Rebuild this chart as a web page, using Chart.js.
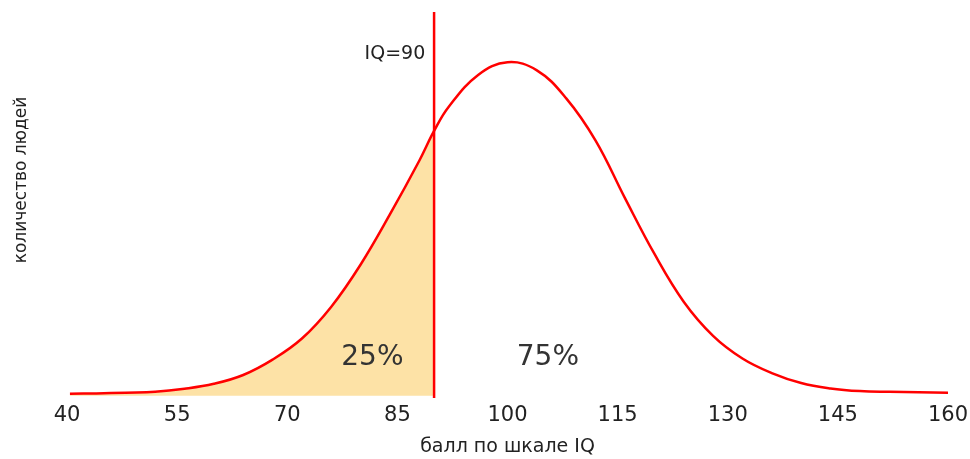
<!DOCTYPE html>
<html lang="ru">
<head>
    <meta charset="UTF-8">
    <title>IQ distribution</title>
    <style>
        body { margin: 0; background: #fff; }
        .container { width: 970px; height: 459px; position: relative; }
    </style>
</head>
<body>
    <div class="container">
        <canvas id="iqChart"></canvas>
    </div>

    <script src="https://cdn.jsdelivr.net/npm/chart.js"></script>
    <script>
// values
const iqScores = [40.4, 44, 48, 52, 56, 60, 64, 68, 72, 76, 80, 84, 88, 90, 92, 96, 100, 104, 108, 112, 116, 120, 124, 128, 132, 136, 140, 144, 148, 152, 156, 160];
const peopleCount = [0.5, 0.6, 0.8, 1.0, 1.8, 3.1, 5.4, 9.4, 14.9, 23.2, 34.2, 47.3, 61.3, 69.0, 75.3, 83.6, 86.9, 84.8, 77.5, 66.5, 51.5, 37.0, 24.5, 15.6, 9.7, 5.9, 3.3, 1.9, 1.2, 1.0, 0.9, 0.8];
const cutoffIQ = 90;
const xTickValues = [40, 55, 70, 85, 100, 115, 130, 145, 160];

const noteTexts = ['IQ=90', '25%', '75%'];
const noteIQ = [88.8, 81.6, 105.5];
const noteCount = [89, 10, 10];

const yMin = -0.6, yMax = 100;

const curvePoints = iqScores.map((x, i) => ({ x: x, y: peopleCount[i] }));
const areaPoints = curvePoints.filter(p => p.x <= cutoffIQ);
const cutoffPoints = [{ x: cutoffIQ, y: yMin }, { x: cutoffIQ, y: yMax }];

const textFont = '"DejaVu Sans", sans-serif';

const notesPlugin = {
    id: 'notes',
    afterDatasetsDraw(chart) {
        const ctx = chart.ctx;
        const xs = chart.scales.x, ys = chart.scales.y;
        ctx.save();
        ctx.textBaseline = 'middle';
        // IQ=90 label
        ctx.fillStyle = '#222';
        ctx.font = '19px ' + textFont;
        ctx.textAlign = 'right';
        ctx.fillText(noteTexts[0], xs.getPixelForValue(noteIQ[0]), ys.getPixelForValue(noteCount[0]));
        // percentages
        ctx.fillStyle = '#333';
        ctx.font = '28px ' + textFont;
        ctx.textAlign = 'center';
        for (let i = 1; i < noteTexts.length; i++) {
            ctx.fillText(noteTexts[i], xs.getPixelForValue(noteIQ[i]), ys.getPixelForValue(noteCount[i]));
        }
        // y axis title
        ctx.fillStyle = '#222';
        ctx.font = '17px ' + textFont;
        ctx.translate(22, 180);
        ctx.rotate(-Math.PI / 2);
        ctx.fillText('количество людей', 0, 0);
        ctx.restore();
    }
};

const ctx = document.getElementById('iqChart').getContext('2d');
new Chart(ctx, {
    type: 'line',
    data: {
        datasets: [
            {
                data: curvePoints,
                borderColor: '#ff0000',
                borderWidth: 2.5,
                pointRadius: 0,
                tension: 0.4,
                fill: false
            },
            {
                data: cutoffPoints,
                borderColor: '#ff0000',
                borderWidth: 2.5,
                pointRadius: 0,
                fill: false
            },
            {
                data: areaPoints,
                borderWidth: 0,
                borderColor: 'rgba(0,0,0,0)',
                backgroundColor: 'rgb(253, 226, 166)',
                pointRadius: 0,
                tension: 0.4,
                fill: 'origin'
            }
        ]
    },
    options: {
        responsive: true,
        maintainAspectRatio: false,
        animation: false,
        layout: { padding: { left: 67, right: 22, top: 12, bottom: 1 } },
        plugins: {
            legend: { display: false },
            tooltip: { enabled: false }
        },
        scales: {
            x: {
                type: 'linear',
                min: 40,
                max: 160,
                afterBuildTicks: axis => { axis.ticks = xTickValues.map(v => ({ value: v })); },
                afterFit: axis => { axis.paddingLeft = 0; axis.paddingRight = 0; },
                grid: { display: false, drawTicks: false },
                border: { display: false },
                ticks: {
                    padding: 5,
                    color: '#222',
                    font: { family: textFont, size: 21 }
                },
                title: {
                    display: true,
                    text: 'балл по шкале IQ',
                    color: '#222',
                    padding: { top: 2, bottom: 0 },
                    font: { family: textFont, size: 19 }
                }
            },
            y: {
                display: false,
                min: yMin,
                max: yMax
            }
        }
    },
    plugins: [notesPlugin]
});
    </script>
</body>
</html>
